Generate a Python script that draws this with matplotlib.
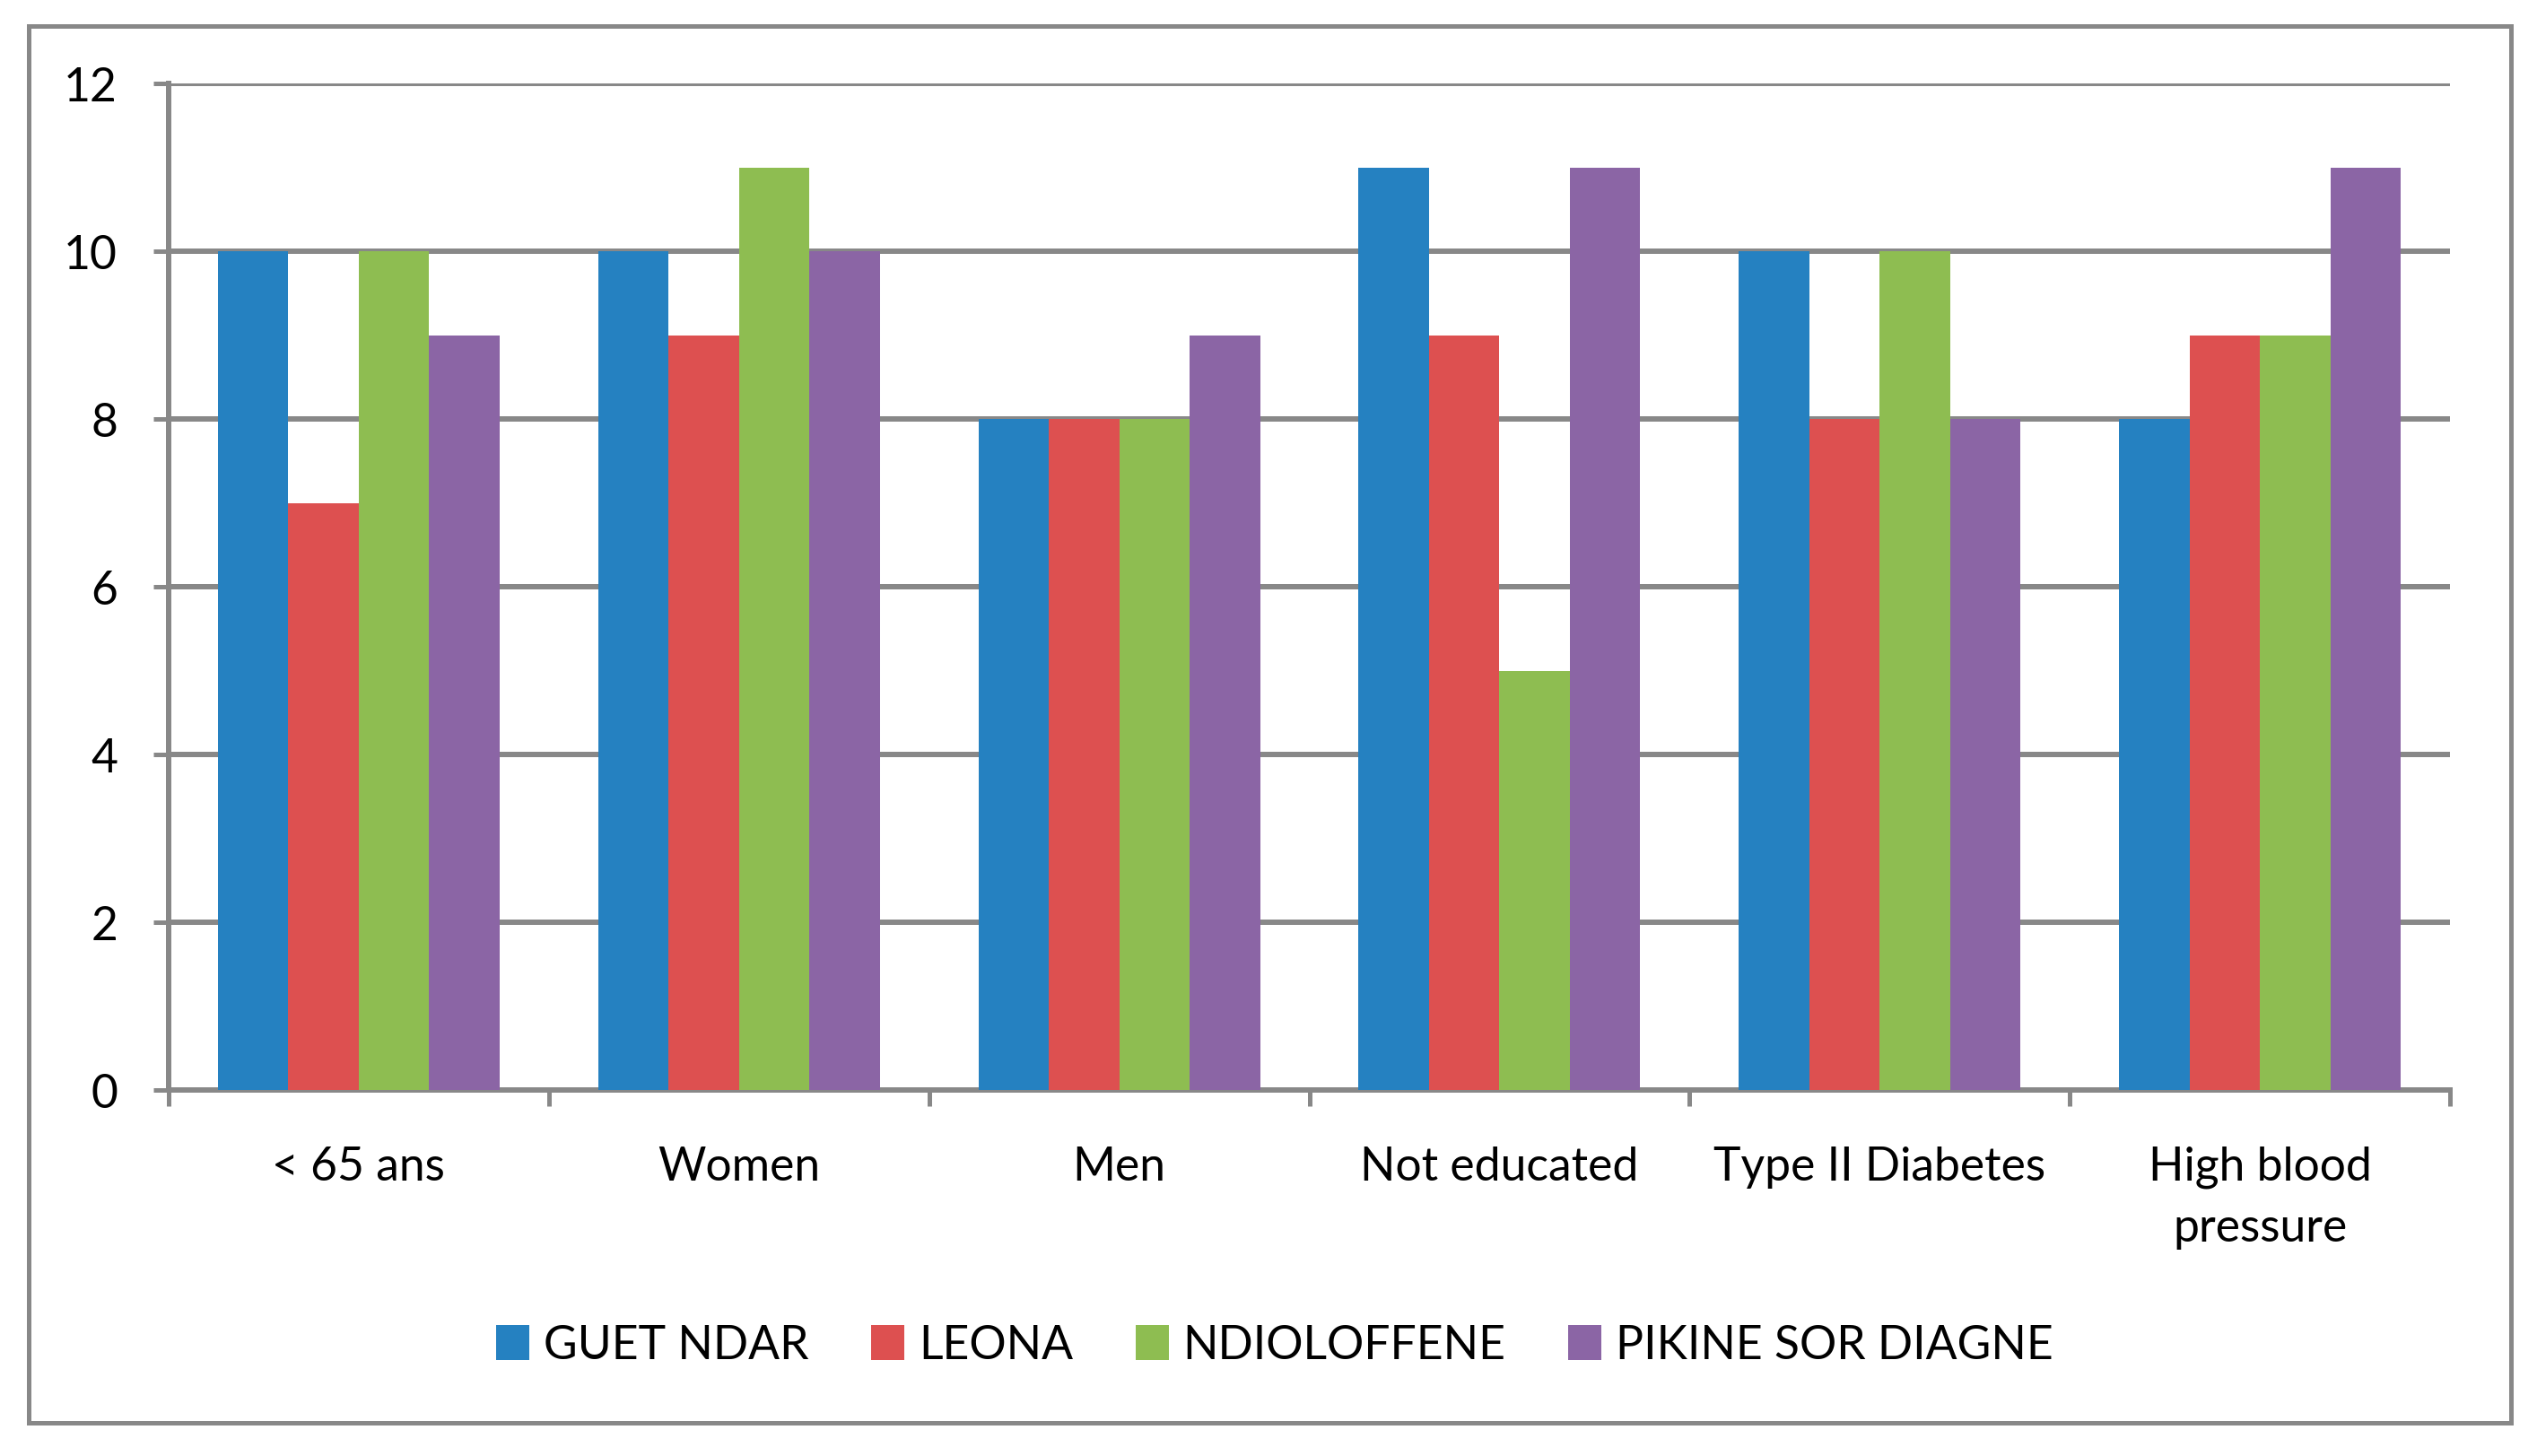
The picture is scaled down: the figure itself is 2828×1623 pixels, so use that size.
import matplotlib
matplotlib.use("Agg")
import matplotlib.pyplot as plt
import numpy as np
from matplotlib.patches import Rectangle

categories = ["< 65 ans", "Women", "Men", "Not educated", "Type II Diabetes", "High blood\npressure"]
series_names = ["GUET NDAR", "LEONA", "NDIOLOFFENE", "PIKINE SOR DIAGNE"]
guet_ndar = [10, 10, 8, 11, 10, 8]
leona = [7, 9, 8, 9, 8, 9]
ndioloffene = [10, 11, 8, 5, 10, 9]
pikine = [9, 10, 9, 11, 8, 11]
y_ticks = [0, 2, 4, 6, 8, 10, 12]

series = [guet_ndar, leona, ndioloffene, pikine]
colors = ["#2581C1", "#DD5050", "#8EBD51", "#8B65A5"]
gray = "#888888"

plt.rcParams['font.family'] = ['Lato', 'DejaVu Sans']
W, H, DPI = 2828, 1624, 200
fig = plt.figure(figsize=(W / DPI, H / DPI), dpi=DPI)
px = 72.0 / DPI  # points per pixel

ax = fig.add_axes([188 / W, 1 - 1216 / H, (2731 - 188) / W, (1216 - 94) / H])

n = len(series)
bw = 1 / 5.4
x = np.arange(len(categories))
for j, (vals, c, name) in enumerate(zip(series, colors, series_names)):
    ax.bar(x + (j - (n - 1) / 2) * bw, vals, width=bw, color=c, label=name, zorder=3, linewidth=0)

ax.set_xlim(-0.5, len(categories) - 0.5)
ax.set_ylim(0, 12)
ax.set_yticks(y_ticks)
ax.set_yticklabels([str(t) for t in y_ticks])

ax.set_xticks(x)
ax.set_xticklabels(categories, linespacing=1.55)
ax.set_xticks(np.arange(len(categories) + 1) - 0.5, minor=True)

fs = 18.6
ax.tick_params(axis='x', which='major', length=0, pad=44 * px + 18 * px, labelsize=fs)
ax.tick_params(axis='x', which='minor', length=18 * px, width=5 * px, color=gray, direction='out')
ax.tick_params(axis='y', which='major', length=17 * px, width=5 * px, color=gray, pad=40 * px, labelsize=fs)

ax.yaxis.grid(True, color=gray, linewidth=6 * px, zorder=0)
ax.set_axisbelow(True)
for s in ['top', 'right']:
    ax.spines[s].set_visible(False)
for s in ['left', 'bottom']:
    ax.spines[s].set_color(gray)
    ax.spines[s].set_linewidth(6 * px)

fig.patches.append(Rectangle((32 / W, 1 - 1587 / H), (2799 - 32) / W, (1587 - 30) / H,
                             transform=fig.transFigure, fill=False, edgecolor=gray,
                             linewidth=5 * px, zorder=10))

fig.legend(loc='center', bbox_to_anchor=(1421 / W, 1 - 1501 / H), ncol=4, frameon=False,
           fontsize=fs, handlelength=0.72, handleheight=0.8, handletextpad=0.3,
           columnspacing=1.35, borderaxespad=0)

fig.savefig("out.png", dpi=DPI, facecolor="white")
